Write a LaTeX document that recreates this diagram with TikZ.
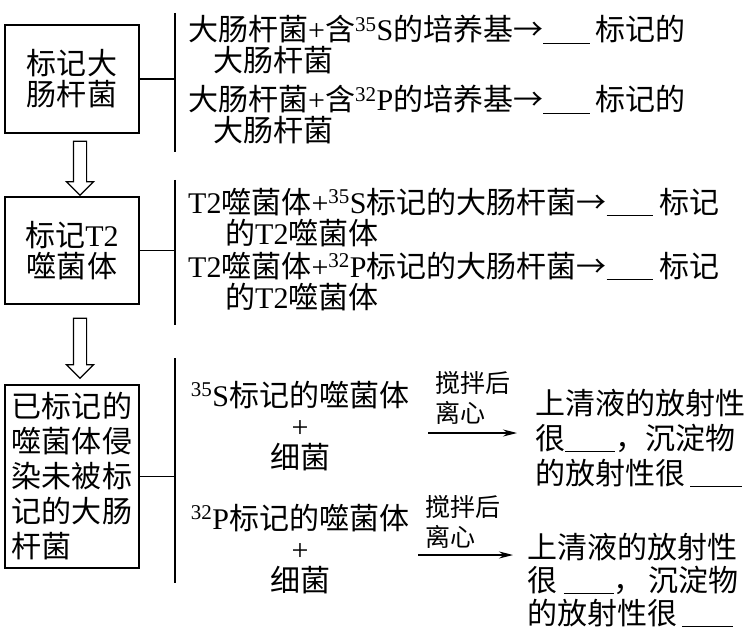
\documentclass[tikz,border=0pt]{standalone}
\usepackage{fontspec}
\setmainfont{Liberation Serif}
\newfontfamily\cjk{Noto Sans CJK SC}
\usetikzlibrary{positioning, calc, arrows.meta, shapes.arrows}
\newcommand\nuc[2]{\textrm{\textsuperscript{#1}#2}}
\newcommand\blank[1]{\rule[-3pt]{#1}{1.2pt}}

\begin{document}
\setlength{\lineskiplimit}{-40pt}
\begin{tikzpicture}[x=1pt, y=-1pt, every node/.style={inner sep=0pt, font=\cjk\fontsize{30}{31}\selectfont}]
    \tikzstyle{block} = [draw, rectangle, minimum width=134pt, line width=1.2pt, align=center]
    \tikzstyle{fat} = [draw, single arrow, shape border rotate=270, inner sep=6pt, single arrow head extend=7pt, single arrow head indent=0pt, line width=1.2pt]
    \tikzstyle{item} = [anchor=base west, align=left]
    \tikzstyle{mix} = [anchor=base, align=center]
    \tikzstyle{tag} = [anchor=base west, align=left, font=\cjk\fontsize{25}{30}\selectfont]
    \tikzstyle{result} = [anchor=base west, align=left, font=\cjk\fontsize{30}{35}\selectfont]
    \tikzstyle{arrow} = [line width=1.2pt, -{Stealth[length=14pt, width=7pt]}]
    \useasboundingbox (0,0) rectangle (749,628);

    % Steps
    \node (mark1) [block, minimum height=108pt] at (72,79) {标记大\\肠杆菌};
    \node (mark2) [block, minimum height=107pt, below of=mark1, node distance=171.5pt] {标记\textrm{T2}\\噬菌体};
    \node (mark3) [block, minimum height=183pt, below of=mark2, node distance=226pt, align=left, font=\cjk\fontsize{30}{35}\selectfont] {已标记的\\噬菌体侵\\染未被标\\记的大肠\\杆菌};
    \node (down1) [fat, minimum height=54pt] at (80,165) {};
    \node (down2) [fat, minimum height=60pt] at (80,345) {};

    % Brackets
    \coordinate (join1) at (175,79);
    \coordinate (top1) at (175,13);
    \coordinate (bot1) at (175,152);
    \coordinate (join2) at (175,250.5);
    \coordinate (top2) at (175,180);
    \coordinate (bot2) at (175,325);
    \coordinate (join3) at (175,476.5);
    \coordinate (top3) at (175,358);
    \coordinate (bot3) at (175,583);
    \draw [line width=1.2pt] (mark1) -- (join1);
    \draw [line width=1.2pt] (top1) -- (bot1);
    \draw [line width=1.2pt] (mark2) -- (join2);
    \draw [line width=1.2pt] (top2) -- (bot2);
    \draw [line width=1.2pt] (mark3) -- (join3);
    \draw [line width=1.2pt] (top3) -- (bot3);

    % Labelling E. coli
    \node (ecoliS) [item] at (188,72) {大肠杆菌\textrm{+}含\nuc{35}{S}的培养基→\blank{47pt}\,标记的\\\hspace*{25pt}大肠杆菌};
    \node (ecoliP) [item] at (188,142) {大肠杆菌\textrm{+}含\nuc{32}{P}的培养基→\blank{47pt}\,标记的\\\hspace*{25pt}大肠杆菌};

    % Labelling T2 phage
    \node (phageS) [item] at (188,244) {\textrm{T2}噬菌体\textrm{+}\nuc{35}{S}标记的大肠杆菌→\blank{46pt}\ 标记\\\hspace*{37pt}的\textrm{T2}噬菌体};
    \node (phageP) [item] at (188,308) {\textrm{T2}噬菌体\textrm{+}\nuc{32}{P}标记的大肠杆菌→\blank{46pt}\ 标记\\\hspace*{37pt}的\textrm{T2}噬菌体};

    % Infection
    \node (mixS) [mix] at (300,468) {\nuc{35}{S}标记的噬菌体\\\textrm{+}\\细菌};
    \node (mixP) [mix] at (300,591) {\nuc{32}{P}标记的噬菌体\\\textrm{+}\\细菌};
    \node (spinS) [tag] at (435,422.5) {搅拌后\\离心};
    \node (spinP) [tag] at (425,546.5) {搅拌后\\离心};
    \coordinate (fromS) at (428,433);
    \coordinate (toS) at (517,433);
    \coordinate (fromP) at (418,555);
    \coordinate (toP) at (513,555);
    \draw [arrow] (fromS) -- (toS);
    \draw [arrow] (fromP) -- (toP);
    \node (outS) [result] at (535,484) {上清液的放射性\\很\blank{50pt}，沉淀物\\的放射性很\,\blank{52pt}};
    \node (outP) [result, font=\cjk\fontsize{30}{33}\selectfont] at (527,624) {上清液的放射性\\很\ \blank{50pt}，\,沉淀物\\的放射性很\,\blank{51pt}};
\end{tikzpicture}
\end{document}
